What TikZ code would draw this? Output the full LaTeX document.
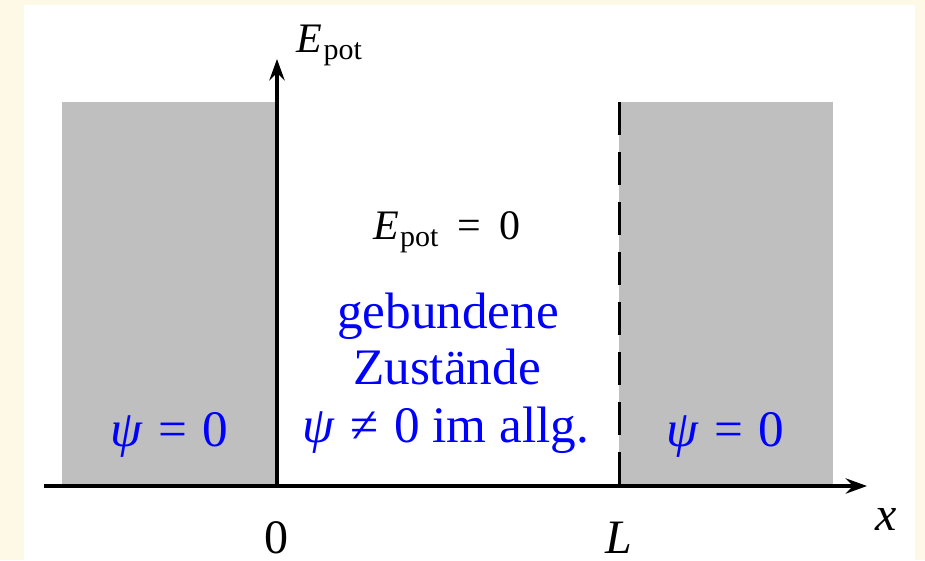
\documentclass[tikz,border=0pt]{standalone}
\usepackage{fontspec}
\setmainfont{Liberation Serif}
\usetikzlibrary{arrows.meta}
\definecolor{pagecream}{RGB}{254,249,231}
\definecolor{wallgray}{RGB}{191,191,191}
\newcommand{\Epot}{\textit{E}\kern0.3pt\raisebox{-1.8pt}{\fontsize{7.5}{8}\selectfont pot}}

\begin{document}
\begin{tikzpicture}[
    x=0.25pt, y=-0.25pt,
    wall/.style={fill=wallgray, draw=none},
    axis/.style={-{Stealth[length=5.3pt, width=3.8pt, inset=1.8pt]}, line width=0.85pt},
    lbl/.style={inner sep=0pt, anchor=base, font=\large},
    mlbl/.style={inner sep=0pt, anchor=base, font=\fontsize{10.5}{12}\selectfont},
    info/.style={inner sep=0pt, anchor=base, font=\fontsize{12.8}{15}\selectfont, text=blue}
]
    % frame
    \fill[pagecream] (0,0) rectangle (925,560);
    \fill[white] (24,5) rectangle (915,560);
    \useasboundingbox (0,0) rectangle (925,560);

    \coordinate (O) at (277,486);
    \coordinate (L) at (619.5,486);
    \coordinate (xstart) at (44,486);
    \coordinate (xend) at (867,486);
    \coordinate (yend) at (277,59);
    \coordinate (Ltop) at (619.5,102);

    % walls
    \fill[wall] (62,102) rectangle (O);
    \fill[wall] (Ltop) rectangle (833,486);

    % axes
    \draw[axis] (xstart) -- (xend);
    \draw[axis] (O) -- (yend);
    \draw[line width=0.85pt, dash pattern=on 8.3pt off 4.2pt] (Ltop) -- (L);

    \node[mlbl, anchor=base west] (ylabel) at (296,52) {\Epot};
    \node[lbl] (xlabel) at (886,530) {\textit{x}};
    \node[lbl] (zero) at (276.5,553) {0};
    \node[lbl] (width) at (619,553) {\textit{L}};

    \node[mlbl] (epot) at (447,239) {\Epot\hspace{0.45em}=\hspace{0.45em}0};
    \node[info] (bound1) at (448,328) {gebundene};
    \node[info] (bound2) at (447,384) {Zustände};
    \node[info] (bound3) at (446,442) {\textit{ψ}\hspace{0.3em}≠\hspace{0.3em}0 im allg.};
    \node[info] (psileft) at (169,446) {\textit{ψ}\hspace{0.3em}=\hspace{0.3em}0};
    \node[info] (psiright) at (725,446) {\textit{ψ}\hspace{0.3em}=\hspace{0.3em}0};
\end{tikzpicture}
\end{document}
